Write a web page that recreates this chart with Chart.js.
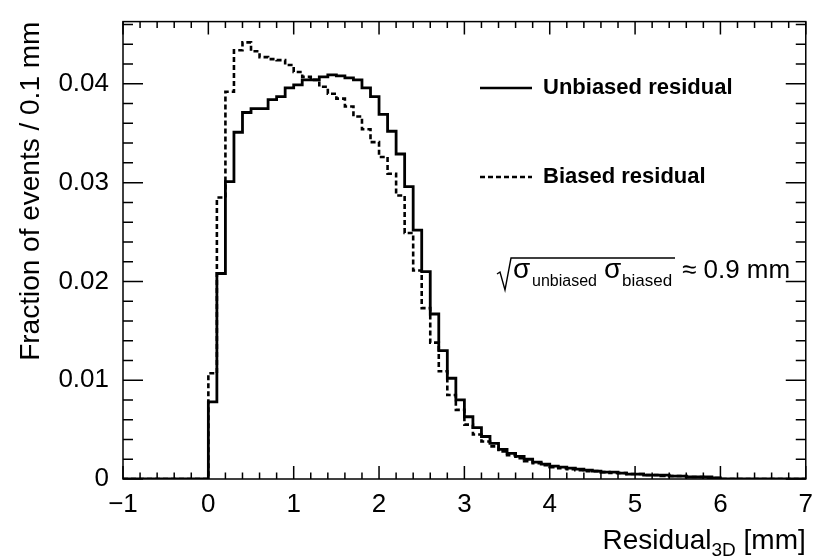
<!DOCTYPE html>
<html>
<head>
<meta charset="utf-8">
<script src="https://cdn.jsdelivr.net/npm/chart.js@4/dist/chart.umd.min.js"></script>
<style>
  html, body { margin: 0; padding: 0; background: #fff; }
  canvas { display: block; }
</style>
</head>
<body>
<canvas id="resid-chart" width="815" height="559"></canvas>
<script>
// histogram bins: 0.1 mm wide, first bin starts at 0 mm
const binStart = 0
const binWidth = 0.1
const xRange = [-1, 7]
const xTickLabels = ["\u22121", "0", "1", "2", "3", "4", "5", "6", "7"]
const yTickLabels = ["0", "0.01", "0.02", "0.03", "0.04"]

// fraction of events per bin
const unbiased = [
  0.0078, 0.0208, 0.0301, 0.0351, 0.0371, 0.0375, 0.0375, 0.0384, 0.0387, 0.0396,
  0.0399, 0.0404, 0.0404, 0.0407, 0.0409, 0.0408, 0.0406, 0.0404, 0.0396, 0.0387,
  0.0369, 0.0352, 0.0329, 0.0296, 0.0252, 0.0210, 0.0167, 0.0130, 0.0102, 0.0080,
  0.0063, 0.0052, 0.0043, 0.0036, 0.0030, 0.0026, 0.0023, 0.0020, 0.0017, 0.0015,
  0.0013, 0.0012, 0.0011, 0.0010, 0.0009, 0.0008, 0.0007, 0.0007, 0.0006, 0.0005,
  0.0005, 0.0004, 0.0004, 0.0004, 0.0003, 0.0003, 0.0002, 0.0002, 0.0002, 0.0001,
  0, 0, 0, 0, 0, 0, 0, 0, 0, 0
]
const biased = [
  0.0107, 0.0285, 0.0392, 0.0434, 0.0442, 0.0433, 0.0427, 0.0425, 0.0424, 0.0419,
  0.0412, 0.0407, 0.0404, 0.0397, 0.0390, 0.0385, 0.0377, 0.0367, 0.0354, 0.0341,
  0.0326, 0.0309, 0.0287, 0.0249, 0.0211, 0.0173, 0.0138, 0.0109, 0.0085, 0.0070,
  0.0055, 0.0045, 0.0038, 0.0033, 0.0028, 0.0024, 0.0021, 0.0018, 0.0016, 0.0014,
  0.0012, 0.0011, 0.0010, 0.0009, 0.0008, 0.0008, 0.0007, 0.0006, 0.0006, 0.0005,
  0.0005, 0.0004, 0.0004, 0.0003, 0.0003, 0.0003, 0.0002, 0.0002, 0.0001, 0.0001,
  0, 0, 0, 0, 0, 0, 0, 0, 0, 0
]

const FONT = "'Liberation Sans', Arial, sans-serif"

// turn bin contents into step points (left edge of each bin, plus the ends)
function histPoints(vals) {
  const pts = [{x: xRange[0], y: 0}]
  vals.forEach((v, i) => pts.push({x: +(binStart + i * binWidth).toFixed(2), y: v}))
  pts.push({x: xRange[1], y: 0})
  return pts
}

function isMultiple(v, step) {
  const r = v / step
  return Math.abs(r - Math.round(r)) < 1e-6
}

// ROOT style frame: box with inward ticks on all four sides, plus titles/legend
const framePlugin = {
  id: "frame",
  afterDraw(chart) {
    const ctx = chart.ctx
    const a = chart.chartArea
    const xs = chart.scales.x, ys = chart.scales.y
    ctx.save()
    ctx.strokeStyle = "#000"
    ctx.lineWidth = 1.5
    ctx.strokeRect(a.left, a.top, a.right - a.left, a.bottom - a.top)
    ctx.beginPath()
    xs.ticks.forEach(t => {
      const px = xs.getPixelForValue(t.value)
      const len = isMultiple(t.value, 1) ? 13 : 6.5
      ctx.moveTo(px, a.bottom); ctx.lineTo(px, a.bottom - len)
      ctx.moveTo(px, a.top); ctx.lineTo(px, a.top + len)
    })
    ys.ticks.forEach(t => {
      const py = ys.getPixelForValue(t.value)
      const len = isMultiple(t.value, 0.01) ? 20 : 10
      ctx.moveTo(a.left, py); ctx.lineTo(a.left + len, py)
      ctx.moveTo(a.right, py); ctx.lineTo(a.right - len, py)
    })
    ctx.stroke()

    ctx.fillStyle = "#000"
    // y title, right aligned to the top of the frame
    ctx.save()
    ctx.translate(31, a.top)
    ctx.rotate(-Math.PI / 2)
    ctx.font = "28px " + FONT
    ctx.textAlign = "right"
    ctx.textBaseline = "middle"
    ctx.fillText("Fraction of events / 0.1 mm", 0, 0)
    ctx.restore()

    // x title with subscript, right aligned to the frame
    ctx.textBaseline = "alphabetic"
    ctx.textAlign = "left"
    const t1 = "Residual", t3 = " [mm]"
    ctx.font = "19px " + FONT
    const w2 = ctx.measureText("3D").width
    ctx.font = "28px " + FONT
    const w1 = ctx.measureText(t1).width, w3 = ctx.measureText(t3).width
    const x0 = a.right - (w1 + w2 + w3)
    const base = 549
    ctx.fillText(t1, x0, base)
    ctx.fillText(t3, x0 + w1 + w2, base)
    ctx.font = "19px " + FONT
    ctx.fillText("3D", x0 + w1, base + 7)

    // legend
    ctx.lineWidth = 2.5
    ctx.beginPath(); ctx.moveTo(480, 88); ctx.lineTo(532, 88); ctx.stroke()
    ctx.setLineDash([5, 3])
    ctx.beginPath(); ctx.moveTo(480, 177); ctx.lineTo(532, 177); ctx.stroke()
    ctx.setLineDash([])
    ctx.font = "bold 22px " + FONT
    ctx.textBaseline = "middle"
    ctx.fillText("Unbiased residual", 543, 88)
    ctx.fillText("Biased residual", 543, 177)

    // sqrt(sigma_unbiased sigma_biased) ~ 0.9 mm
    ctx.textBaseline = "alphabetic"
    const fb = 278
    ctx.lineWidth = 1.4
    ctx.beginPath()
    ctx.moveTo(497, 274); ctx.lineTo(500, 272); ctx.lineTo(505, 290)
    ctx.lineTo(511, 258); ctx.lineTo(675, 258)
    ctx.stroke()
    ctx.font = "28px " + FONT
    ctx.fillText("\u03C3", 513, fb)
    ctx.fillText("\u03C3", 604, fb)
    ctx.font = "16px " + FONT
    ctx.fillText("unbiased", 532, fb + 8)
    ctx.font = "17px " + FONT
    ctx.fillText("biased", 622, fb + 8)
    ctx.font = "26px " + FONT
    ctx.fillText("\u2248 0.9 mm", 682, fb)
    ctx.restore()
  }
}

new Chart("resid-chart", {
  type: "line",
  data: {
    datasets: [
      {
        label: "Unbiased residual",
        data: histPoints(unbiased),
        stepped: "before",
        borderColor: "#000",
        borderWidth: 2.8,
        pointRadius: 0,
        fill: false
      },
      {
        label: "Biased residual",
        data: histPoints(biased),
        stepped: "before",
        borderColor: "#000",
        borderWidth: 2.6,
        borderDash: [5, 3],
        pointRadius: 0,
        fill: false
      }
    ]
  },
  options: {
    responsive: false,
    animation: false,
    layout: { padding: { top: 14, right: 8, left: 0, bottom: 0 } },
    plugins: { legend: { display: false }, tooltip: { enabled: false } },
    scales: {
      x: {
        type: "linear",
        min: xRange[0],
        max: xRange[1],
        grid: { display: false },
        border: { display: false },
        afterFit: s => { s.height = 80 },
        ticks: {
          stepSize: 0.2,
          autoSkip: false,
          maxRotation: 0,
          includeBounds: false,
          padding: 2,
          color: "#000",
          font: { family: FONT, size: 26 },
          callback: v => isMultiple(v, 1) ? xTickLabels[Math.round(v) - xRange[0]] : ""
        }
      },
      y: {
        type: "linear",
        min: 0,
        max: 0.0463,
        grid: { display: false },
        border: { display: false },
        afterFit: s => { s.width = 123 },
        ticks: {
          stepSize: 0.002,
          autoSkip: false,
          includeBounds: false,
          padding: 6,
          color: "#000",
          font: { family: FONT, size: 26 },
          callback: v => isMultiple(v, 0.01) ? yTickLabels[Math.round(v / 0.01)] : ""
        }
      }
    }
  },
  plugins: [framePlugin]
})
</script>
</body>
</html>
